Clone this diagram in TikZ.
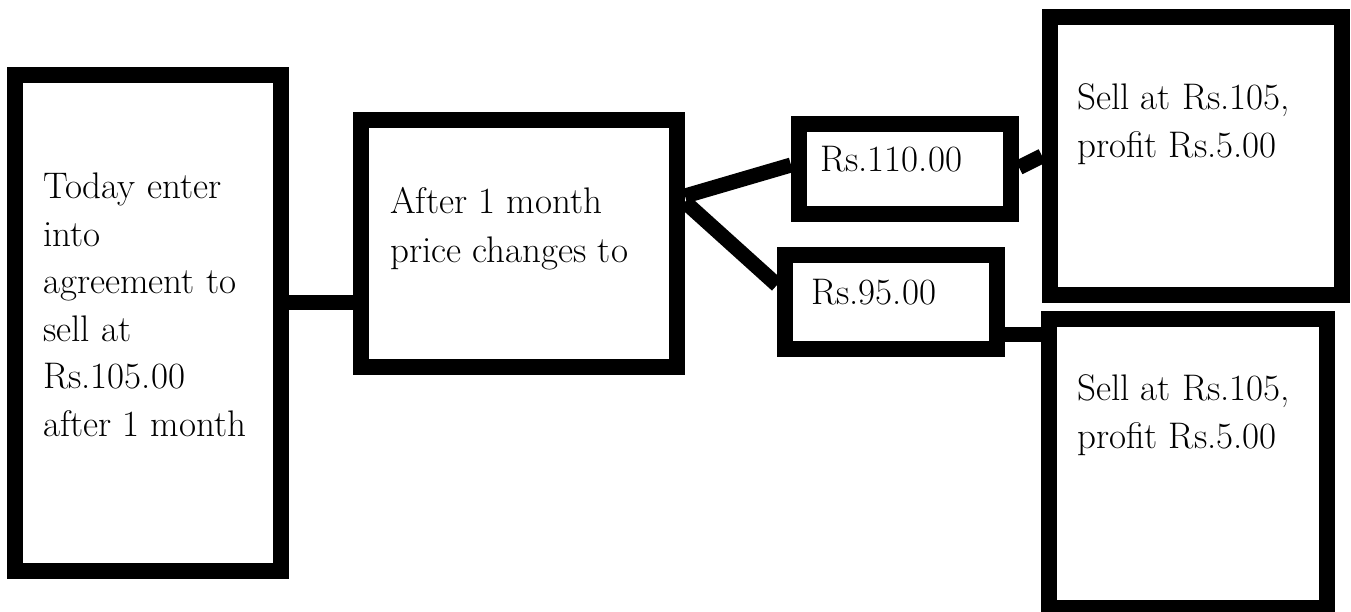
\documentclass[tikz,border=0pt]{standalone}
\usetikzlibrary{calc}
\begin{document}
\begin{tikzpicture}[x=1pt,y=-1pt,
  box/.style={draw=black, line width=16pt, rectangle, inner sep=0pt},
  link/.style={draw=black, line width=15pt},
  txt/.style={anchor=base west, inner sep=0pt, align=left, font=\fontsize{37}{47.5}\selectfont}]
\useasboundingbox (0,0) rectangle (1351,612);
% boxes
\node[box, minimum width=266pt, minimum height=496pt] (A) at (148,323) {};
\node[box, minimum width=316pt, minimum height=247pt] (B) at (519,243.5) {};
\node[box, minimum width=212pt, minimum height=90pt] (C) at (905,169) {};
\node[box, minimum width=212pt, minimum height=94pt] (D) at (891,302) {};
\node[box, minimum width=292pt, minimum height=278pt] (E) at (1196,156) {};
\node[box, minimum width=278pt, minimum height=289pt] (F) at (1188,463.5) {};
% connectors
\draw[link] ([yshift=21pt]A.east) -- ([yshift=21pt]A.east -| B.west);
\draw[link] ([yshift=47.5pt]B.east) -- ([yshift=4pt]C.west);
\draw[link] ([yshift=41.5pt]B.east) -- ([yshift=17pt]D.west);
\draw[link] ([yshift=1.5pt]C.east) -- (E.west);
\draw[link] ([yshift=-32pt]D.east) -- ([yshift=-32pt]D.east -| F.west);
% texts (anchored at the baseline of the last line)
\node[txt] (tA) at (43,436) {Today enter\\into\\agreement to\\sell at\\Rs.105.00\\after 1 month};
\node[txt, font=\fontsize{37}{49}\selectfont] (tB) at (390,262) {After 1 month\\price changes to};
\node[txt] (tC) at (820,172) {Rs.110.00};
\node[txt] (tD) at (811,304) {Rs.95.00};
\node[txt, font=\fontsize{37}{48}\selectfont] (tE) at (1077,158) {Sell at Rs.105,\\profit Rs.5.00};
\node[txt, font=\fontsize{37}{48}\selectfont] (tF) at (1077,448) {Sell at Rs.105,\\profit Rs.5.00};
\end{tikzpicture}
\end{document}
